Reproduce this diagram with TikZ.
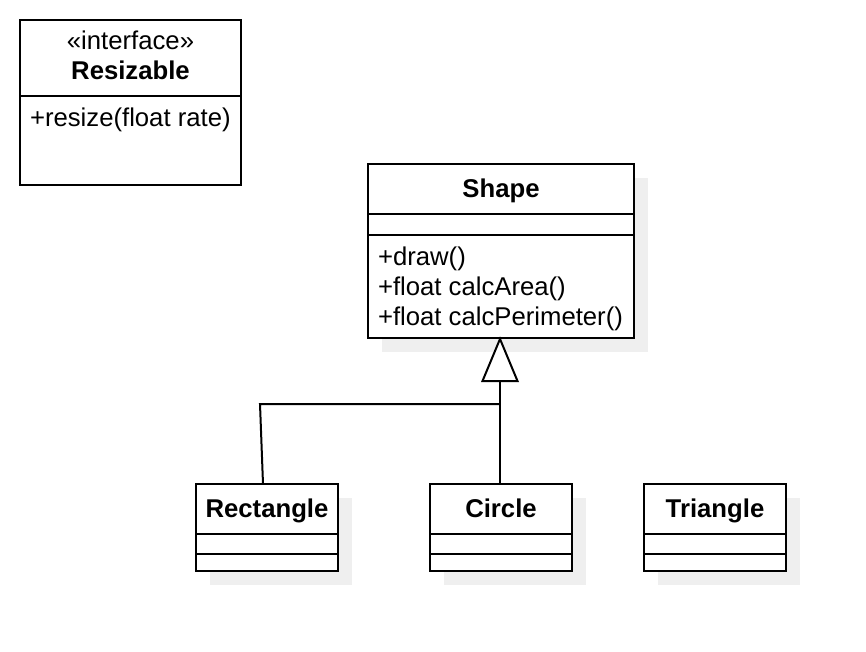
\documentclass[tikz,border=0pt]{standalone}
\usepackage{fontspec}
\setmainfont{Liberation Sans}
\definecolor{shadowgray}{HTML}{EFEFEF}
\begin{document}
\begin{tikzpicture}[x=1pt,y=-1pt,line width=2pt,
  classbox/.style={draw=black,fill=white,anchor=north west,inner sep=0pt,outer sep=0pt},
  txt/.style={inner sep=0pt,outer sep=0pt,font=\fontsize{25.7}{30}\selectfont},
  bold/.style={txt,font=\fontsize{25.7}{30}\selectfont\bfseries},
  conn/.style={draw=black,line width=2pt}]
\useasboundingbox[fill=white] (0,0) rectangle (866,652);

% shadows
\fill[shadowgray] (382,178) rectangle ++(266,174);
\fill[shadowgray] (210,498) rectangle ++(142,87);
\fill[shadowgray] (444,498) rectangle ++(142,87);
\fill[shadowgray] (658,498) rectangle ++(142,87);

% Resizable
\node[classbox,minimum width=221pt,minimum height=165pt] (res) at (20,20) {};
\draw (res.north west) ++(0,76) -- ++(221,0);
\node[txt,anchor=base] (resst) at (130.5,50) {«interface»};
\node[bold,anchor=base] (resname) at (130.5,80) {Resizable};
\node[txt,anchor=base west] (resop) at (30,127) {+resize(float rate)};

% Shape
\node[classbox,minimum width=266pt,minimum height=174pt] (shp) at (368,164) {};
\draw (shp.north west) ++(0,50) -- ++(266,0);
\draw (shp.north west) ++(0,71) -- ++(266,0);
\node[bold,anchor=base] (shpname) at (501,197) {Shape};
\node[txt,anchor=base west] (shpop1) at (378,265) {+draw()};
\node[txt,anchor=base west] (shpop2) at (378,295) {+float calcArea()};
\node[txt,anchor=base west] (shpop3) at (378,325) {+float calcPerimeter()};

% Rectangle
\node[classbox,minimum width=142pt,minimum height=87pt] (rect) at (196,484) {};
\draw (rect.north west) ++(0,50) -- ++(142,0);
\draw (rect.north west) ++(0,70) -- ++(142,0);
\node[bold,anchor=base] (rectname) at (267,517) {Rectangle};

% Circle
\node[classbox,minimum width=142pt,minimum height=87pt] (circ) at (430,484) {};
\draw (circ.north west) ++(0,50) -- ++(142,0);
\draw (circ.north west) ++(0,70) -- ++(142,0);
\node[bold,anchor=base] (circname) at (501,517) {Circle};

% Triangle
\node[classbox,minimum width=142pt,minimum height=87pt] (tri) at (644,484) {};
\draw (tri.north west) ++(0,50) -- ++(142,0);
\draw (tri.north west) ++(0,70) -- ++(142,0);
\node[bold,anchor=base] (triname) at (715,517) {Triangle};

% generalization
\coordinate (apex) at (500,339);
\coordinate (tbl) at (482.5,381);
\coordinate (tbr) at (517.5,381);
\coordinate (tbase) at (500,381);
\coordinate (join) at (500,404);
\coordinate (rturn) at (260,404);
\coordinate (rtop) at (263,484);
\coordinate (ctop) at (500,484);
\draw[conn] (ctop) -- (tbase);
\draw[conn,line join=miter] (join) -- (rturn) -- (rtop);
\draw[conn,fill=white,line join=miter] (apex) -- (tbl) -- (tbr) -- cycle;
\end{tikzpicture}
\end{document}
